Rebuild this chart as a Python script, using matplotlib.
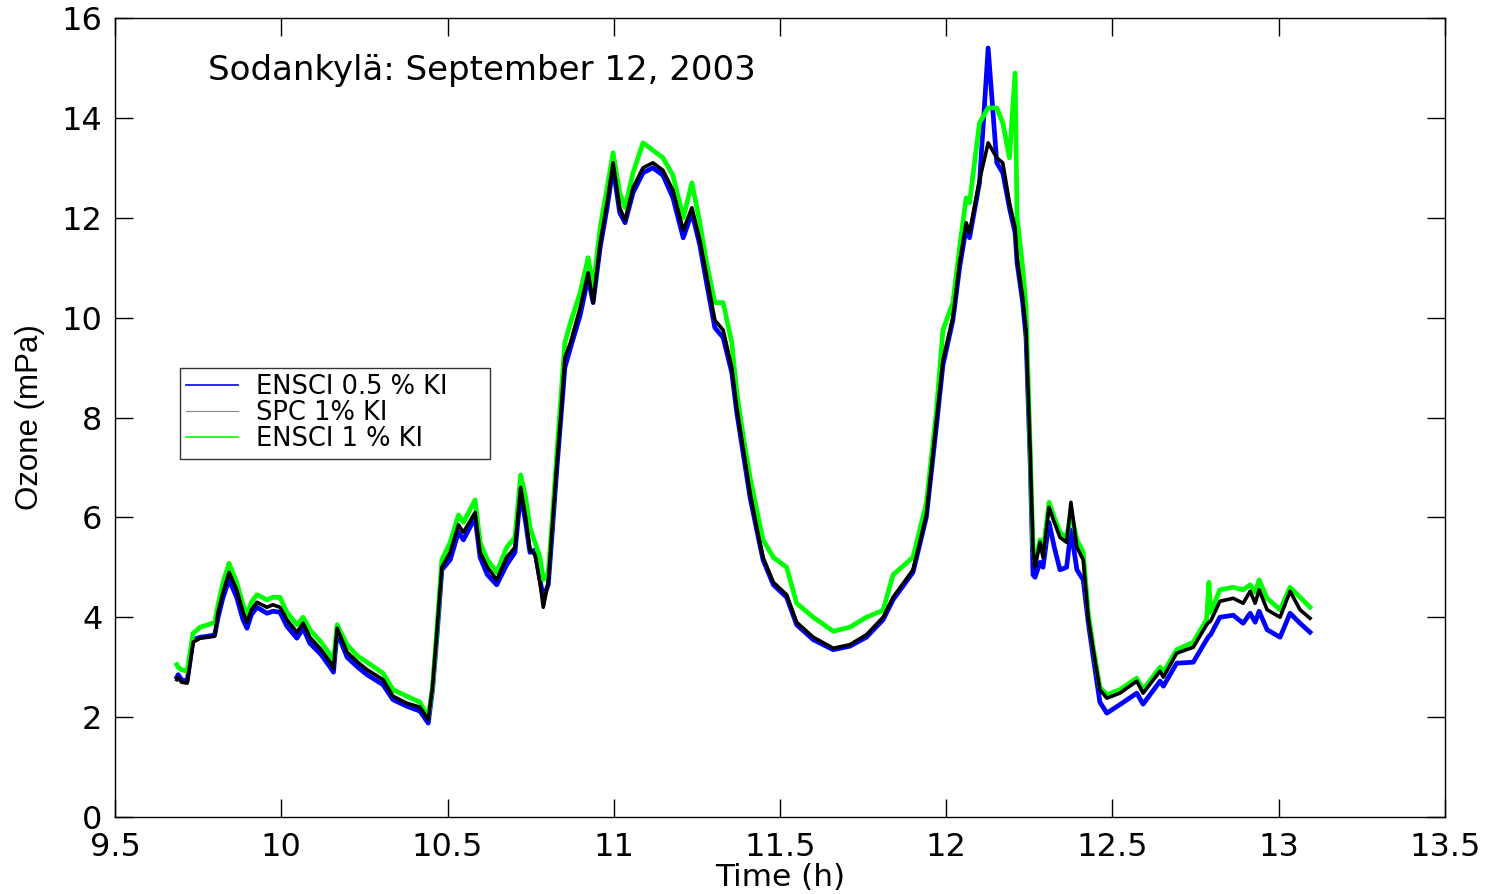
import matplotlib
matplotlib.use("Agg")
import matplotlib.pyplot as plt

plt.rcParams['font.family'] = ['DejaVu Sans']

time_h = [9.686, 9.69, 9.70, 9.717, 9.735, 9.756, 9.78, 9.80, 9.81, 9.825, 9.843, 9.866, 9.885,
          9.897, 9.91, 9.927, 9.957, 9.975, 9.996, 10.017, 10.047, 10.066, 10.086, 10.12, 10.147,
          10.157, 10.168, 10.198, 10.23, 10.258, 10.306, 10.336, 10.377, 10.417, 10.442, 10.455,
          10.468, 10.483, 10.508, 10.533, 10.548, 10.583, 10.598, 10.62, 10.648, 10.678, 10.703,
          10.720, 10.735, 10.748, 10.763, 10.778, 10.788, 10.803, 10.815, 10.828, 10.84, 10.853,
          10.87, 10.899, 10.923, 10.938, 10.959, 10.98, 10.998, 11.018, 11.034, 11.058, 11.088,
          11.118, 11.148, 11.178, 11.209, 11.235, 11.259, 11.279, 11.304, 11.329, 11.355, 11.37,
          11.39, 11.41, 11.43, 11.449, 11.48, 11.52, 11.55, 11.60, 11.66, 11.71, 11.76, 11.81,
          11.84, 11.90, 11.94, 11.97, 11.99, 12.02, 12.04, 12.06, 12.07, 12.10, 12.126, 12.152,
          12.17, 12.19, 12.207, 12.213, 12.23, 12.24, 12.252, 12.261, 12.267, 12.282, 12.291,
          12.309, 12.325, 12.342, 12.362, 12.375, 12.393, 12.412, 12.427, 12.442, 12.462, 12.483,
          12.522, 12.573, 12.592, 12.643, 12.653, 12.693, 12.743, 12.783, 12.79, 12.795, 12.823,
          12.863, 12.893, 12.914, 12.929, 12.941, 12.965, 13.004, 13.034, 13.064, 13.094]

spc_1 = [2.75, 2.8, 2.7, 2.68, 3.5, 3.58, 3.6, 3.62, 4.1, 4.5, 4.9, 4.55, 4.1,
         3.9, 4.15, 4.3, 4.2, 4.25, 4.2, 3.95, 3.7, 3.88, 3.6, 3.35, 3.1,
         2.97, 3.78, 3.3, 3.1, 2.95, 2.75, 2.42, 2.28, 2.2, 1.95, 2.6,
         3.7, 5.0, 5.3, 5.85, 5.7, 6.1, 5.3, 5.0, 4.75, 5.2, 5.4,
         6.6, 6.0, 5.35, 5.25, 4.7, 4.2, 4.7, 5.8, 7.0, 8.0, 9.2,
         9.5, 10.2, 10.9, 10.3, 11.5, 12.3, 13.1, 12.2, 11.95, 12.6, 13.0,
         13.1, 12.95, 12.55, 11.75, 12.2, 11.55, 10.85, 9.95, 9.75, 9.0, 8.2,
         7.35, 6.5, 5.8, 5.2, 4.7, 4.45, 3.9, 3.6, 3.38, 3.45, 3.65, 4.0,
         4.4, 4.95, 6.05, 7.9, 9.15, 10.0, 11.1, 11.9, 11.7, 12.75, 13.5, 13.2,
         13.1, 12.3, 11.8, 11.2, 10.4, 9.75, 7.4, 5.35, 5.0, 5.5, 5.2,
         6.2, 5.9, 5.6, 5.5, 6.3, 5.4, 5.15, 4.0, 3.35, 2.55, 2.38,
         2.48, 2.72, 2.48, 2.92, 2.8, 3.28, 3.4, 3.85, 3.9, 3.92, 4.32,
         4.38, 4.28, 4.52, 4.28, 4.55, 4.15, 4.0, 4.52, 4.15, 3.98]

ensci_1 = [3.05, 3.0, 2.95, 2.92, 3.68, 3.8, 3.85, 3.9, 4.25, 4.7, 5.08, 4.7, 4.25,
           4.05, 4.3, 4.45, 4.35, 4.4, 4.4, 4.1, 3.85, 4.0, 3.75, 3.5, 3.25,
           3.1, 3.85, 3.45, 3.22, 3.1, 2.88, 2.55, 2.42, 2.3, 2.0, 2.6,
           3.75, 5.15, 5.5, 6.05, 5.9, 6.35, 5.5, 5.15, 4.9, 5.4, 5.6,
           6.85, 6.4, 5.8, 5.5, 5.2, 4.75, 4.9, 5.95, 7.2, 8.3, 9.5,
           9.9, 10.5, 11.2, 10.6, 11.8, 12.6, 13.3, 12.5, 12.2, 12.9, 13.5,
           13.35, 13.2, 12.85, 12.0, 12.7, 11.9, 11.1, 10.3, 10.3, 9.5, 8.5,
           7.6, 6.8, 6.15, 5.55, 5.2, 5.0, 4.28, 4.0, 3.72, 3.8, 4.0, 4.14,
           4.85, 5.2, 6.28, 8.1, 9.75, 10.3, 11.4, 12.4, 12.3, 13.9, 14.2, 14.2,
           13.9, 13.2, 14.9, 12.0, 11.0, 10.2, 7.5, 5.4, 5.1, 5.55, 5.3,
           6.3, 6.0, 5.7, 5.6, 6.1, 5.55, 5.3, 4.1, 3.4, 2.6, 2.45,
           2.55, 2.78, 2.55, 3.0, 2.9, 3.35, 3.5, 3.95, 4.7, 4.1, 4.55,
           4.6, 4.55, 4.65, 4.5, 4.75, 4.38, 4.15, 4.6, 4.4, 4.2]

ensci_05 = [2.8, 2.85, 2.75, 2.72, 3.55, 3.6, 3.62, 3.65, 4.0, 4.4, 4.75, 4.4, 3.95,
            3.78, 4.05, 4.2, 4.08, 4.12, 4.1, 3.82, 3.58, 3.78, 3.48, 3.25, 3.0,
            2.9, 3.7, 3.2, 3.0, 2.85, 2.65, 2.35, 2.22, 2.12, 1.88, 2.55,
            3.6, 4.95, 5.15, 5.7, 5.55, 6.0, 5.2, 4.85, 4.65, 5.05, 5.3,
            6.5, 5.9, 5.3, 5.35, 4.75, 4.4, 4.65, 5.7, 6.9, 7.9, 9.0,
            9.4, 10.05, 10.8, 10.3, 11.4, 12.2, 13.0, 12.1, 11.9, 12.5, 12.9,
            13.0, 12.85, 12.4, 11.6, 12.1, 11.45, 10.7, 9.8, 9.6, 8.9, 8.1,
            7.25, 6.4, 5.75, 5.15, 4.65, 4.4, 3.85, 3.55, 3.35, 3.42, 3.6, 3.95,
            4.35, 4.9, 6.0, 7.8, 9.05, 9.95, 11.0, 11.8, 11.6, 12.7, 15.4, 13.1,
            12.9, 12.2, 11.7, 11.1, 10.3, 9.6, 7.2, 4.85, 4.8, 5.1, 5.0,
            5.9, 5.4, 4.95, 5.0, 5.75, 4.95, 4.75, 3.9, 3.2, 2.3, 2.08,
            2.25, 2.48, 2.26, 2.72, 2.62, 3.08, 3.1, 3.55, 3.62, 3.65, 4.0,
            4.04, 3.88, 4.08, 3.9, 4.12, 3.75, 3.6, 4.08, 3.88, 3.7]

x_ticks = [9.5, 10, 10.5, 11, 11.5, 12, 12.5, 13, 13.5]
x_tick_labels = ['9.5', '10', '10.5', '11', '11.5', '12', '12.5', '13', '13.5']
y_ticks = [0, 2, 4, 6, 8, 10, 12, 14, 16]
series_labels = ['ENSCI 0.5 % KI', 'SPC 1% KI', 'ENSCI 1 % KI']

fig = plt.figure(figsize=(14.93, 8.94), dpi=100)
ax = fig.add_axes([115/1493, 77/894, 1330/1493, 799/894])

ax.plot(time_h, ensci_05, color='#0000ff', lw=3.4, zorder=2)
ax.plot(time_h, ensci_1, color='#00ff00', lw=3.4, zorder=3)
ax.plot(time_h, spc_1, color='black', lw=2.6, zorder=4)

# legend proxies (thin lines, as in reference)
h1, = ax.plot([], [], color='#0000ff', lw=1.2)
h2, = ax.plot([], [], color='#888888', lw=0.8)
h3, = ax.plot([], [], color='#00ff00', lw=1.2)
lx0 = (180 - 115) / 1330
ly0 = (817 - 450) / 799
lw_ = 310 / 1330
lh_ = 82 / 799
leg = ax.legend([h1, h2, h3], series_labels, loc='upper left', mode='expand',
                bbox_to_anchor=(lx0, ly0, lw_, lh_), borderaxespad=0,
                fontsize=18.5, frameon=True, fancybox=False, handlelength=2.0,
                handletextpad=0.7, labelspacing=0.0, borderpad=0.25)
leg.get_frame().set_edgecolor('black')
leg.get_frame().set_linewidth(1.0)

ax.set_xlim(9.5, 13.5)
ax.set_ylim(0, 16)
ax.set_xticks(x_ticks)
ax.set_xticklabels(x_tick_labels)
ax.set_yticks(y_ticks)
ax.tick_params(direction='in', length=13, width=1, top=True, right=True,
               labelsize=23)
ax.tick_params(axis='x', pad=10.5)
ax.tick_params(axis='y', pad=9)
for s in ax.spines.values():
    s.set_linewidth(1.0)

ax.set_xlabel('Time (h)', fontsize=22.5)
ax.xaxis.set_label_coords(0.5, -0.057)
ax.set_ylabel('Ozone (mPa)', fontsize=22.5, labelpad=12, family='Liberation Sans')
ax.text(9.78, 14.76, 'Sodankylä: September 12, 2003', fontsize=24.5, va='baseline', ha='left')

fig.savefig('out.png', dpi=100)
